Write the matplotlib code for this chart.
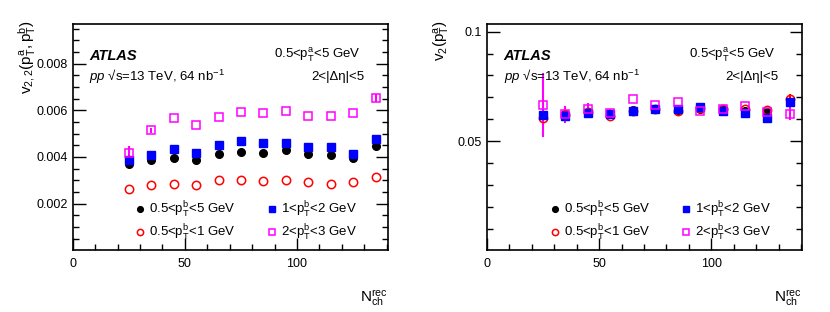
import matplotlib.pyplot as plt
import numpy as np
from matplotlib.ticker import MultipleLocator

plt.rcParams['font.family'] = ['Liberation Sans', 'DejaVu Sans']
plt.rcParams['mathtext.fontset'] = 'custom'
plt.rcParams['mathtext.rm'] = 'Liberation Sans'
plt.rcParams['mathtext.it'] = 'Liberation Sans:italic'
plt.rcParams['mathtext.default'] = 'regular'

nch = np.array([25, 35, 45, 55, 65, 75, 85, 95, 105, 115, 125, 135])

# left panel: v22(pTa, pTb)
v22_all = [0.00370, 0.00388, 0.00396, 0.00387, 0.00414, 0.00422, 0.00416, 0.00429, 0.00413, 0.00407, 0.00397, 0.00446]
v22_low = [0.00262, 0.00281, 0.00283, 0.00281, 0.00301, 0.00303, 0.00297, 0.00303, 0.00294, 0.00284, 0.00291, 0.00316]
v22_mid = [0.00388, 0.00409, 0.00432, 0.00419, 0.00453, 0.00467, 0.00461, 0.00458, 0.00442, 0.00443, 0.00413, 0.00475]
v22_high = [0.00417, 0.00514, 0.00565, 0.00537, 0.00570, 0.00591, 0.00590, 0.00598, 0.00574, 0.00574, 0.00587, 0.00652]
v22_high_err = [0.00030, 0.00012, 0.0, 0.0, 0.0, 0.0, 0.0, 0.0, 0.0, 0.0, 0.0, 0.00016]

# right panel: v2(pTa)
v2_all = [0.0620, 0.0624, 0.0630, 0.0622, 0.0640, 0.0647, 0.0643, 0.0648, 0.0644, 0.0638, 0.0632, 0.0680]
v2_low = [0.0605, 0.0620, 0.0632, 0.0615, 0.0638, 0.0645, 0.0638, 0.0650, 0.0645, 0.0648, 0.0640, 0.0690]
v2_mid = [0.0619, 0.0616, 0.0627, 0.0622, 0.0637, 0.0645, 0.0645, 0.0654, 0.0639, 0.0630, 0.0607, 0.0678]
v2_high = [0.0665, 0.0622, 0.0645, 0.0627, 0.0691, 0.0663, 0.0677, 0.0639, 0.0646, 0.0660, 0.0634, 0.0624]
v2_high_err = [0.0146, 0.0040, 0.0030, 0.0020, 0.0, 0.0, 0.0, 0.0, 0.0, 0.0, 0.0015, 0.0030]
v2_low_err = [0.0020, 0.0010, 0.0008, 0.0008, 0.0006, 0.0006, 0.0006, 0.0006, 0.0006, 0.0008, 0.0010, 0.0025]
v2_mid_err = [0.0015, 0.0008, 0.0006, 0.0006, 0.0005, 0.0005, 0.0005, 0.0005, 0.0005, 0.0006, 0.0008, 0.0020]

labels = ['0.5<$p_T^b$<5 GeV', '0.5<$p_T^b$<1 GeV', '1<$p_T^b$<2 GeV', '2<$p_T^b$<3 GeV']

fig = plt.figure(figsize=(8.3, 3.12), dpi=100)
axL = fig.add_axes([0.0876, 0.1987, 0.3795, 0.7244])
axR = fig.add_axes([0.5867, 0.1987, 0.3795, 0.7244])


def draw(ax, ya, yl, ym, yh, el, em, eh):
    h1 = ax.errorbar(nch, ya, yerr=None, fmt='o', ms=5.5, color='black', mec='black')
    h2 = ax.errorbar(nch, yl, yerr=el, fmt='o', ms=6, mfc='none', mec='red', mew=1.1,
                     ecolor='red', elinewidth=1.5, capsize=0)
    h3 = ax.errorbar(nch, ym, yerr=em, fmt='s', ms=5.5, color='blue', mec='blue',
                     ecolor='blue', elinewidth=1.5, capsize=0)
    h4 = ax.errorbar(nch, yh, yerr=eh, fmt='s', ms=6, mfc='none', mec='magenta', mew=1.1,
                     ecolor='magenta', elinewidth=1.5, capsize=0)
    return [h.lines[0] for h in (h1, h2, h3, h4)]


hL = draw(axL, v22_all, v22_low, v22_mid, v22_high, None, None, v22_high_err)
hR = draw(axR, v2_all, v2_low, v2_mid, v2_high, v2_low_err, v2_mid_err, v2_high_err)

for ax in (axL, axR):
    ax.set_xlim(0, 140.4)
    ax.xaxis.set_major_locator(MultipleLocator(50))
    ax.xaxis.set_minor_locator(MultipleLocator(10))
    ax.tick_params(which='both', direction='in', right=True, top=False, labelsize=9)
    ax.tick_params(which='major', length=9, width=1)
    ax.tick_params(which='minor', length=4.5, width=1)
    ax.tick_params(axis='x', pad=6)
    for s in ax.spines.values():
        s.set_linewidth(1.2)
    ax.text(0.053, 0.86, 'ATLAS', transform=ax.transAxes, fontsize=10.5,
            fontweight='bold', style='italic', va='center')
    ax.text(0.053, 0.765, r'$\it{pp}$ √s=13 TeV, 64 $nb^{-1}$', transform=ax.transAxes,
            fontsize=9.5, va='center')
    ax.text(0.915, 0.86, '0.5<$p_T^a$<5 GeV', transform=ax.transAxes, fontsize=9.5,
            ha='right', va='center')
    ax.text(0.925, 0.765, '2<|Δη|<5', transform=ax.transAxes, fontsize=9.5,
            ha='right', va='center')
    ax.text(1.0, -0.17, r'$N_{ch}^{rec}$', transform=ax.transAxes, fontsize=11,
            ha='right', va='top')

axL.set_ylim(0.00001, 0.0097)
axL.yaxis.set_minor_locator(MultipleLocator(0.0005))
axL.set_yticks([0.002, 0.004, 0.006, 0.008])
axL.set_yticklabels(['0.002', '0.004', '0.006', '0.008'])
fig.text(0.033, 0.935, '$v_{2,2}(p_T^a,p_T^b)$', rotation=90, ha='center', va='top', fontsize=11)

axR.set_ylim(0.0002, 0.1035)
axR.yaxis.set_minor_locator(MultipleLocator(0.01))
axR.set_yticks([0.05, 0.1])
axR.set_yticklabels(['0.05', '0.1'])
fig.text(0.532, 0.935, '$v_{2}(p_T^a)$', rotation=90, ha='center', va='top', fontsize=11)

for ax, h in ((axL, hL), (axR, hR)):
    ax.legend(h, labels, ncol=2, loc='lower left', bbox_to_anchor=(0.16, -0.02),
              frameon=False, fontsize=9.5, handlelength=0.8, handletextpad=0.3,
              columnspacing=2.3, labelspacing=0.22, markerscale=0.75)

fig.savefig('out.png', dpi=100)
